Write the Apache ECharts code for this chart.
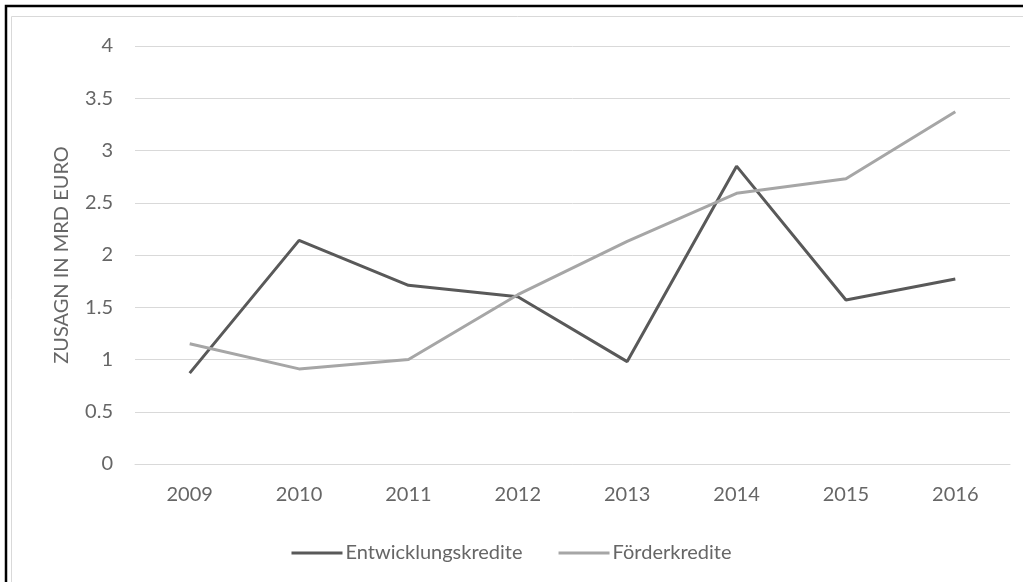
<!DOCTYPE html>
<html>
<head>
<meta charset="utf-8">
<script src="https://cdn.jsdelivr.net/npm/echarts@6/dist/echarts.min.js"></script>
<style>
  html, body { margin: 0; padding: 0; background: #fff; }
  #chart { width: 1023px; height: 582px; }
</style>
</head>
<body>
<div id="chart"></div>
<script>
// data
var years = ['2009', '2010', '2011', '2012', '2013', '2014', '2015', '2016'];
var entwicklung = [0.87, 2.14, 1.71, 1.60, 0.98, 2.85, 1.57, 1.77];
var foerder = [1.15, 0.91, 1.00, 1.62, 2.13, 2.59, 2.73, 3.37];
var yTicks = ['0', '0.5', '1', '1.5', '2', '2.5', '3', '3.5', '4'];

var font = 'Lato, "Open Sans", sans-serif';
var chart = echarts.init(document.getElementById('chart'));

chart.setOption({
  animation: false,
  textStyle: { fontFamily: font },
  graphic: [
    // outer black frame (top + left)
    {
      type: 'polyline',
      shape: { points: [[6, 582], [6, 6], [1023, 6]] },
      style: { stroke: '#000', lineWidth: 2.5, fill: null }
    },
    // inner light frame
    {
      type: 'rect',
      shape: { x: 11.5, y: 16.5, width: 1030, height: 600 },
      style: { stroke: '#d9d9d9', lineWidth: 1, fill: null }
    }
  ],
  legend: {
    top: 538,
    left: 'center',
    itemWidth: 51,
    itemHeight: 3,
    itemGap: 36,
    icon: 'rect',
    textStyle: { color: '#666', fontSize: 20, fontFamily: font, padding: [0, 0, 0, -2] },
    data: ['Entwicklungskredite', 'Förderkredite']
  },
  grid: { left: 135, right: 13, top: 46, bottom: 118 },
  xAxis: {
    type: 'category',
    data: years,
    boundaryGap: true,
    axisLine: { show: true, lineStyle: { color: '#d9d9d9' } },
    axisTick: { show: false },
    axisLabel: { color: '#666', fontSize: 20, margin: 21 }
  },
  yAxis: {
    type: 'value',
    min: 0,
    max: 4,
    interval: 0.5,
    name: 'ZUSAGN IN MRD EURO',
    nameLocation: 'middle',
    nameGap: 63,
    nameRotate: 90,
    nameTextStyle: { color: '#666', fontSize: 20, fontFamily: font },
    axisLine: { show: false },
    axisTick: { show: false },
    axisLabel: {
      color: '#666', fontSize: 20, margin: 22,
      formatter: function (v) { return yTicks[Math.round(v / 0.5)]; }
    },
    splitLine: { lineStyle: { color: '#d9d9d9', width: 1 } }
  },
  series: [
    {
      name: 'Entwicklungskredite',
      type: 'line',
      data: entwicklung,
      symbol: 'none',
      color: '#595959',
      lineStyle: { width: 3, color: '#595959' }
    },
    {
      name: 'Förderkredite',
      type: 'line',
      data: foerder,
      symbol: 'none',
      color: '#a6a6a6',
      lineStyle: { width: 3, color: '#a6a6a6' }
    }
  ]
});
</script>
</body>
</html>
